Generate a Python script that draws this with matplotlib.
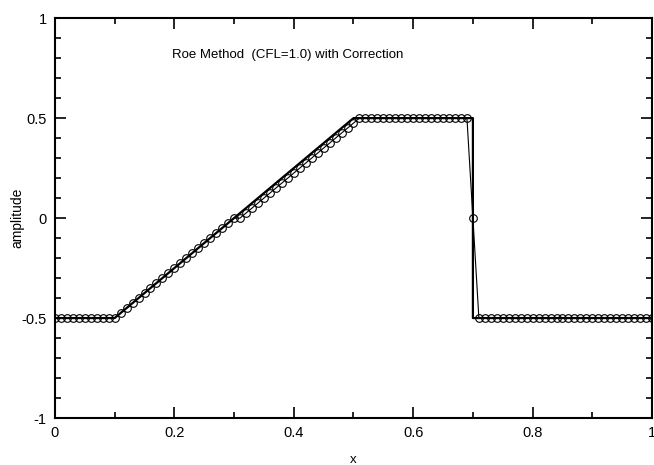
import numpy as np
import matplotlib
matplotlib.use("Agg")
import matplotlib.pyplot as plt
from matplotlib.ticker import MultipleLocator, FuncFormatter

plt.rcParams['font.family'] = ['Liberation Sans', 'DejaVu Sans']

# solution exacte (polyligne)
x_exact = [0.0, 0.1, 0.5, 0.7, 0.7, 1.0]
u_exact = [-0.5, -0.5, 0.5, 0.5, -0.5, -0.5]

# solution numerique (pas 0.01)
x_num = np.arange(101) / 100.0
u_num = ([-0.5] * 11 +
         [-0.475, -0.45, -0.425, -0.4, -0.375, -0.35, -0.325, -0.3, -0.275, -0.25,
          -0.225, -0.2, -0.175, -0.15, -0.125, -0.1, -0.075, -0.05, -0.025, 0.0] +
         [0.0, 0.025, 0.05, 0.075, 0.1, 0.125, 0.15, 0.175, 0.2, 0.225, 0.25,
          0.275, 0.3, 0.325, 0.35, 0.375, 0.4, 0.425, 0.45, 0.475, 0.5] +
         [0.5] * 18 +
         [0.0] +
         [-0.5] * 30)

fig = plt.figure(figsize=(6.54, 4.65), dpi=100)
ax = fig.add_axes([0.084, 0.101, 0.913, 0.860])

ax.plot(x_exact, u_exact, color='black', linewidth=1.6)
ax.plot(x_num, u_num, color='black', linewidth=0.8, marker='o', markersize=5.5,
        markerfacecolor='none', markeredgecolor='black', markeredgewidth=0.8)

ax.set_xlim(0, 1)
ax.set_ylim(-1, 1)
ax.xaxis.set_major_locator(MultipleLocator(0.2))
ax.xaxis.set_minor_locator(MultipleLocator(0.1))
ax.yaxis.set_major_locator(MultipleLocator(0.5))
ax.yaxis.set_minor_locator(MultipleLocator(0.1))

fmt = FuncFormatter(lambda v, p: '%g' % round(v, 2))
ax.xaxis.set_major_formatter(fmt)
ax.yaxis.set_major_formatter(fmt)

ax.tick_params(which='both', direction='in', top=True, right=True, labelsize=10.5, width=1.2)
ax.tick_params(which='major', length=8, pad=6)
ax.tick_params(which='minor', length=4)
for s in ax.spines.values():
    s.set_linewidth(1.5)

ax.set_xlabel('x', fontsize=9.5, labelpad=10)
ax.set_ylabel('amplitude', fontsize=10, labelpad=-2)
ax.text(0.389, 0.815, 'Roe Method  (CFL=1.0) with Correction', fontsize=9.5,
        ha='center', va='center', transform=ax.transData)

fig.savefig('out.png', dpi=100)
